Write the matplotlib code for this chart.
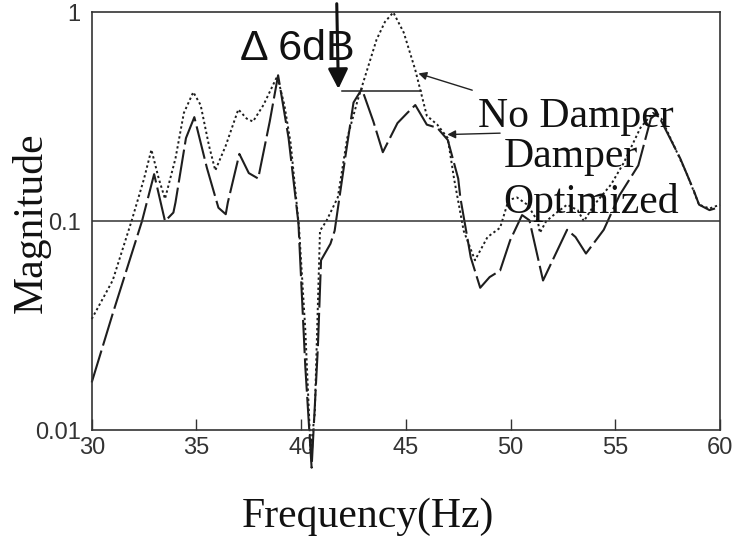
import matplotlib
matplotlib.use("Agg")
import matplotlib.pyplot as plt
from matplotlib.ticker import FixedLocator, NullLocator

# ---- data ----
no_damper_f = [30.0, 31.0, 31.9, 32.5, 32.85, 33.2, 33.5, 34.0, 34.4, 34.85, 35.2, 35.6,
               35.9, 36.4, 37.0, 37.4, 37.7, 38.2, 38.86, 39.2, 39.5, 39.9, 40.2, 40.45,
               40.65, 40.9, 41.2, 41.75, 42.2, 42.7, 43.2, 43.6, 44.0, 44.4, 44.9, 45.45,
               46.0, 46.5, 47.0, 47.3, 47.76, 48.3, 48.9, 49.5, 49.9, 50.3, 50.8, 51.3,
               51.4, 51.7, 52.2, 52.7, 53.2, 53.5, 54.0, 54.8, 55.4, 56.2, 56.8, 57.2,
               57.8, 58.4, 59.0, 59.5, 60.0]
no_damper_m = [0.034, 0.052, 0.10, 0.16, 0.22, 0.16, 0.128, 0.20, 0.33, 0.415, 0.36, 0.23,
               0.175, 0.23, 0.343, 0.31, 0.30, 0.36, 0.495, 0.36, 0.236, 0.093, 0.03, 0.008,
               0.012, 0.09, 0.10, 0.13, 0.25, 0.38, 0.55, 0.74, 0.90, 1.0, 0.80, 0.53,
               0.32, 0.29, 0.25, 0.16, 0.09, 0.065, 0.084, 0.093, 0.126, 0.13, 0.12, 0.10,
               0.088, 0.10, 0.11, 0.12, 0.113, 0.10, 0.12, 0.15, 0.19, 0.28, 0.33, 0.31,
               0.23, 0.17, 0.12, 0.115, 0.12]

damper_f = [30.0, 31.0, 31.7, 32.4, 32.98, 33.5, 33.9, 34.0, 34.5, 34.9, 35.5, 36.05,
            36.4, 36.5, 37.05, 37.5, 37.95, 38.05, 38.5, 38.9, 39.4, 39.87, 40.2, 40.5,
            40.8, 40.95, 41.4, 41.6, 42.1, 42.5, 42.9, 43.45, 43.9, 44.6, 45.07, 45.45,
            46.0, 46.5, 47.0, 47.5, 47.6, 48.1, 48.55, 49.0, 49.5, 49.98, 50.55, 50.9,
            51.55, 52.7, 53.1, 53.6, 54.45, 55.2, 56.1, 56.7, 57.0, 58.1, 58.75, 59.0,
            59.5, 60.0]
damper_m = [0.0169, 0.036, 0.06, 0.10, 0.168, 0.10, 0.11, 0.123, 0.25, 0.315, 0.18, 0.116,
            0.108, 0.123, 0.21, 0.17, 0.16, 0.18, 0.30, 0.50, 0.25, 0.098, 0.02, 0.0066,
            0.025, 0.065, 0.078, 0.09, 0.20, 0.37, 0.43, 0.30, 0.214, 0.295, 0.33, 0.36,
            0.29, 0.28, 0.245, 0.16, 0.13, 0.067, 0.048, 0.054, 0.058, 0.081, 0.107, 0.101,
            0.052, 0.091, 0.084, 0.07, 0.091, 0.133, 0.185, 0.31, 0.33, 0.20, 0.14, 0.12,
            0.113, 0.117]

x_ticks = [30, 35, 40, 45, 50, 55, 60]
y_ticks = [0.01, 0.1, 1]
y_tick_labels = ["0.01", "0.1", "1"]
series_labels = ["No Damper", "Damper", "Optimized"]

# ---- figure ----
fig = plt.figure(figsize=(7.32, 5.38), dpi=100)
ax = fig.add_axes([0.1253, 0.2007, 0.9836 - 0.1253, 0.977 - 0.2007])

line_col = "#1e1e1e"
ax.plot(no_damper_f, no_damper_m, color=line_col, lw=1.4, linestyle=(0, (1.2, 1.4)),
        clip_on=False)
ax.plot(damper_f, damper_m, color=line_col, lw=1.5, linestyle=(0, (16, 2.5)),
        clip_on=False)

ax.set_yscale("log")
ax.set_xlim(30, 60)
ax.set_ylim(0.01, 1)
ax.xaxis.set_major_locator(FixedLocator(x_ticks))
ax.yaxis.set_major_locator(FixedLocator(y_ticks))
ax.yaxis.set_minor_locator(NullLocator())
ax.set_yticklabels(y_tick_labels)
ax.axhline(0.1, color="#333333", lw=1.1)

ax.tick_params(axis="x", direction="in", length=8, width=1, pad=5,
               labelsize=17, labelcolor="#333333", colors="#333333")
ax.tick_params(axis="y", length=0, pad=8, labelsize=17, labelcolor="#333333")
for lab in ax.get_xticklabels() + ax.get_yticklabels():
    lab.set_family("Liberation Sans")
for s in ax.spines.values():
    s.set_linewidth(1.2)
    s.set_color("#333333")

fig.text(368 / 732, 1 - 517 / 538, "Frequency(Hz)", family="Liberation Serif",
         fontsize=30, ha="center", va="center", color="#111111")
fig.text(31 / 732, 1 - 223 / 538, "Magnitude", family="Liberation Serif",
         fontsize=30, ha="center", va="center", rotation=90, color="#111111")

# labels
ax.text(48.46, 0.282, series_labels[0], family="Liberation Serif", fontsize=30,
        ha="left", va="baseline", color="#111111")
ax.text(49.66, 0.181, series_labels[1], family="Liberation Serif", fontsize=30,
        ha="left", va="baseline", color="#111111")
ax.text(49.66, 0.109, series_labels[2], family="Liberation Serif", fontsize=30,
        ha="left", va="baseline", color="#111111")

# arrows to curves
ax.annotate("", xy=(45.6, 0.51), xytext=(48.17, 0.424),
            arrowprops=dict(arrowstyle="-|>", color="#222222", lw=1.0,
                            mutation_scale=12, shrinkA=0, shrinkB=0))
ax.annotate("", xy=(46.98, 0.26), xytext=(49.5, 0.264),
            arrowprops=dict(arrowstyle="-|>", color="#222222", lw=1.0,
                            mutation_scale=12, shrinkA=0, shrinkB=0))

# delta 6 dB marker
ax.plot([41.96, 45.7], [0.42, 0.42], color="#222222", lw=1.1)
ax.text(37.1, 0.67, "\u0394 6dB", family="Liberation Sans", fontsize=31,
        ha="left", va="center", color="#111111")
ax.annotate("", xy=(41.78, 0.43), xytext=(41.7, 1.1),
            xycoords="data", textcoords="data", annotation_clip=False,
            arrowprops=dict(arrowstyle="-|>", color="#111111", lw=2.2,
                            mutation_scale=30, shrinkA=0, shrinkB=0))

fig.savefig("out.png", dpi=100)
